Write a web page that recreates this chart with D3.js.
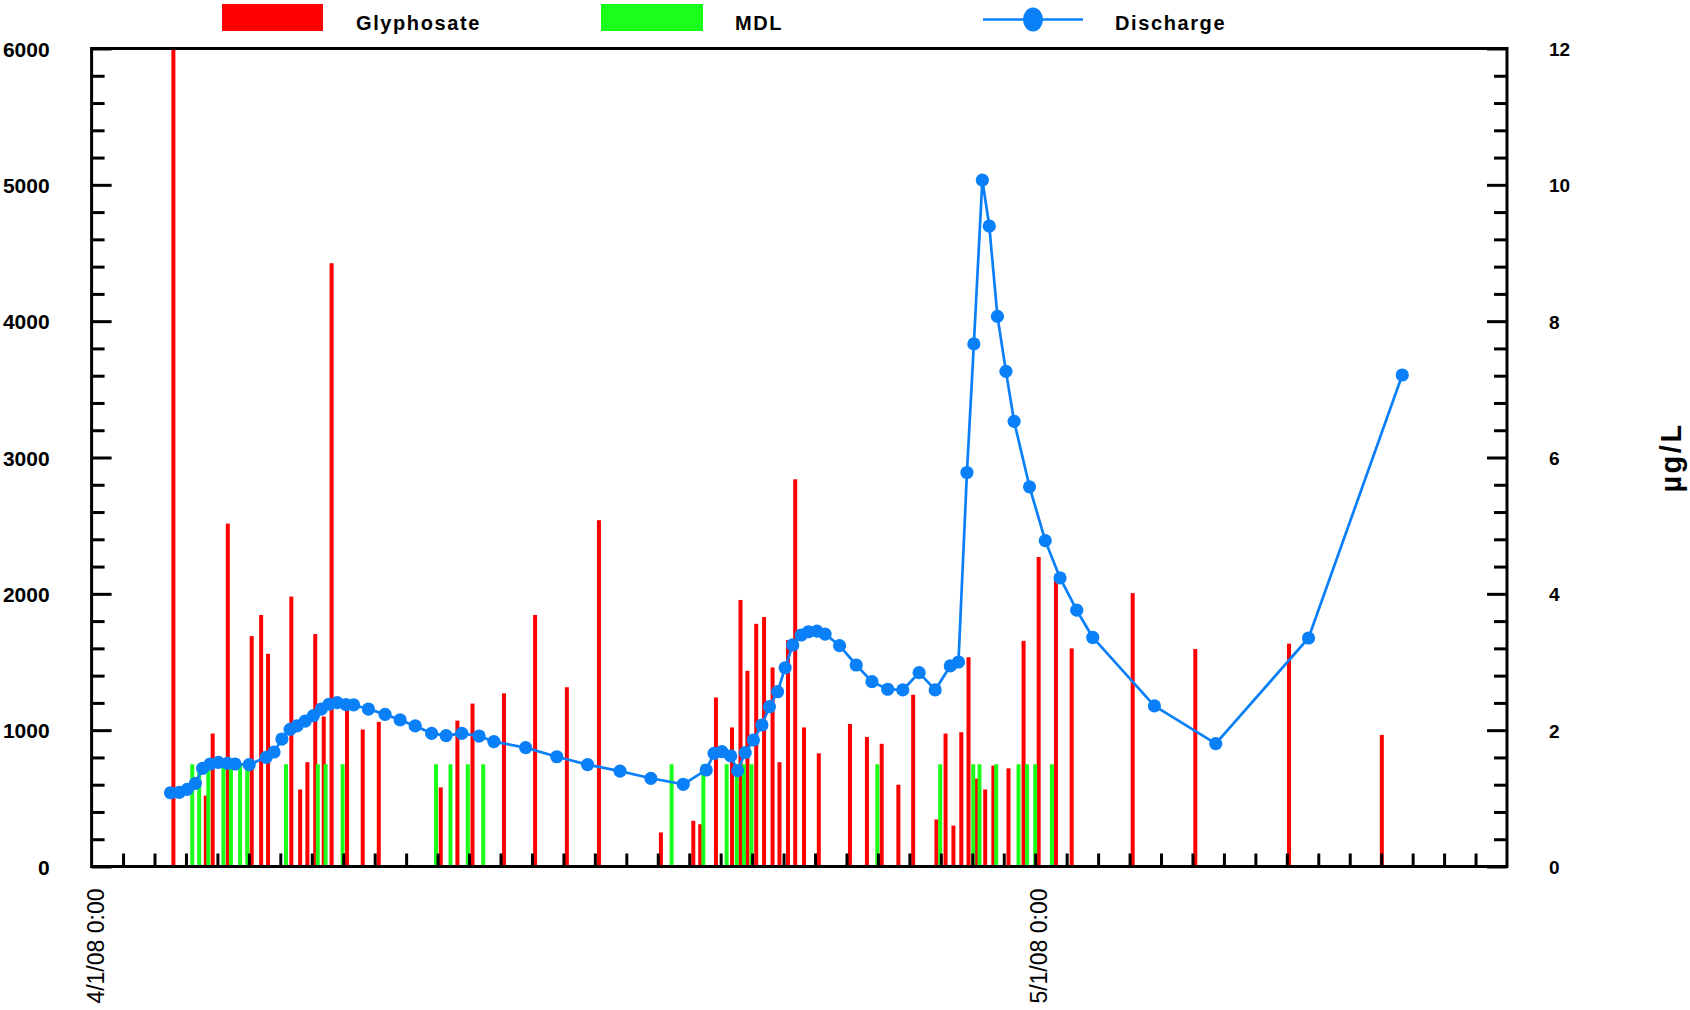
<!DOCTYPE html>
<html>
<head>
<meta charset="utf-8">
<script src="https://cdn.jsdelivr.net/npm/d3@7"></script>
<style>
  html, body { margin: 0; padding: 0; background: #ffffff; }
  svg { display: block; }
</style>
</head>
<body>
<svg id="chart" width="1690" height="1010"></svg>
<script>
// ---- data -------------------------------------------------------------
// All times are days elapsed since 4/1/08 0:00.

// Stream discharge (left axis)
const dischargeDays = [
  2.51, 2.79, 3.04, 3.30, 3.53, 3.77, 4.03, 4.32, 4.56, 5.01,
  5.55, 5.80, 6.05, 6.31, 6.53, 6.79, 7.05, 7.30, 7.55, 7.81,
  8.09, 8.33, 8.80, 9.33, 9.81, 10.29, 10.81, 11.27, 11.77, 12.32,
  12.79, 13.80, 14.79, 15.77, 16.80, 17.78, 18.81, 19.54, 19.79, 20.04,
  20.32, 20.54, 20.78, 21.04, 21.31, 21.55, 21.81, 22.05, 22.29, 22.56,
  22.79, 23.06, 23.32, 23.78, 24.31, 24.81, 25.31, 25.79, 26.31, 26.82,
  27.30, 27.56, 27.83, 28.05, 28.32, 28.54, 28.80, 29.07, 29.33, 29.82,
  30.32, 30.79, 31.32, 31.83, 33.79, 35.74, 38.69, 41.67
];
const dischargeValues = [
  541, 544, 566, 610, 720, 752, 764, 757, 752, 747,
  801, 840, 935, 1006, 1031, 1067, 1106, 1155, 1190, 1202,
  1187, 1185, 1155, 1116, 1075, 1031, 977, 960, 977, 957,
  916, 872, 805, 747, 700, 647, 603, 708, 830, 842,
  811, 703, 835, 928, 1038, 1172, 1282, 1458, 1625, 1698,
  1722, 1727, 1705, 1620, 1478, 1356, 1300, 1295, 1422, 1295,
  1471, 1500, 2890, 3833, 5035, 4698, 4035, 3632, 3265, 2785,
  2390, 2117, 1880, 1680, 1178, 901, 1676, 3605
];

// Glyphosate concentration, µg/L (right axis)
const glyphosateDays = [
  2.60, 3.63, 3.85, 4.33, 5.09, 5.39, 5.61, 6.35, 6.63, 6.86,
  7.11, 7.38, 7.63, 8.12, 8.62, 9.13, 11.10, 11.63, 12.11, 13.11,
  14.10, 15.11, 16.13, 18.10, 19.13, 19.35, 19.85, 20.36, 20.63, 20.85,
  21.13, 21.38, 21.65, 21.87, 22.14, 22.37, 22.65, 23.12, 24.11, 24.65,
  25.12, 25.65, 26.12, 26.86, 27.15, 27.40, 27.65, 27.88, 28.14, 28.41,
  28.67, 29.15, 29.63, 30.11, 30.66, 31.16, 33.10, 35.09, 38.07, 41.02
];
const glyphosateValues = [
  12.0, 1.04, 1.95, 5.03, 3.38, 3.69, 3.12, 3.96, 1.13, 1.53,
  3.41, 2.20, 8.85, 2.34, 2.01, 2.12, 1.16, 2.14, 2.39, 2.54,
  3.69, 2.63, 5.08, 0.50, 0.67, 0.62, 2.48, 2.04, 3.91, 2.87,
  3.56, 3.66, 2.92, 1.53, 3.32, 5.68, 2.04, 1.66, 2.09, 1.90,
  1.80, 1.20, 2.52, 0.69, 1.95, 0.60, 1.97, 3.07, 1.29, 1.13,
  1.48, 1.44, 3.31, 4.54, 4.20, 3.20, 4.01, 3.19, 3.27, 1.93
];

// Samples reported at the method detection limit, µg/L (right axis)
const mdlDays = [
  3.20, 3.42, 3.71, 4.19, 4.43, 4.72, 4.95, 6.18, 7.19, 7.44,
  7.98, 10.95, 11.41, 11.96, 12.45, 18.44, 19.45, 20.19, 20.51, 20.74,
  20.98, 24.98, 26.98, 28.03, 28.23, 28.76, 29.47, 29.74, 30.00, 30.53
];
const mdlValues = [
  1.5, 1.5, 1.5, 1.5, 1.5, 1.5, 1.5, 1.5, 1.5, 1.5,
  1.5, 1.5, 1.5, 1.5, 1.5, 1.5, 1.5, 1.5, 1.5, 1.5,
  1.5, 1.5, 1.5, 1.5, 1.5, 1.5, 1.5, 1.5, 1.5, 1.5
];

// Axis ticks and labels
const leftTicks = [0, 1000, 2000, 3000, 4000, 5000, 6000];
const rightTicks = [0, 2, 4, 6, 8, 10, 12];
const dateLabelDays = [0, 30];
const legendLabels = ["Glyphosate", "MDL", "Discharge"];
const rightTitle = "µg/L";

// ---- layout -----------------------------------------------------------
const plot = { left: 91.6, right: 1507, top: 48.5, bottom: 866.5 };
const colors = { glyphosate: "#ff0000", mdl: "#1aff1a", discharge: "#0a80f8", axis: "#000000" };
const tickFont = "'Liberation Sans', Arial, sans-serif";

const start = new Date(Date.UTC(2008, 3, 1));
const toDate = d => new Date(start.getTime() + d * 86400000);

const svg = d3.select("#chart");

const x = d3.scaleUtc()
  .domain([start, d3.utcDay.offset(start, 45)])
  .range([plot.left, plot.right]);
const yLeft = d3.scaleLinear().domain([0, 6000]).range([plot.bottom, plot.top]);
const yRight = d3.scaleLinear().domain([0, 12]).range([plot.bottom, plot.top]);

svg.append("defs").append("clipPath").attr("id", "plotClip")
  .append("rect")
  .attr("x", plot.left).attr("y", plot.top)
  .attr("width", plot.right - plot.left).attr("height", plot.bottom - plot.top);

// ---- bars -------------------------------------------------------------
const barW = 4;
const bars = svg.append("g").attr("clip-path", "url(#plotClip)");

bars.selectAll("rect.glyphosate")
  .data(d3.zip(glyphosateDays, glyphosateValues))
  .join("rect")
  .attr("class", "glyphosate")
  .attr("x", d => x(toDate(d[0])) - barW / 2)
  .attr("width", barW)
  .attr("y", d => yRight(d[1]))
  .attr("height", d => yRight(0) - yRight(d[1]))
  .attr("fill", colors.glyphosate);

bars.selectAll("rect.mdl")
  .data(d3.zip(mdlDays, mdlValues))
  .join("rect")
  .attr("class", "mdl")
  .attr("x", d => x(toDate(d[0])) - barW / 2)
  .attr("width", barW)
  .attr("y", d => yRight(d[1]))
  .attr("height", d => yRight(0) - yRight(d[1]))
  .attr("fill", colors.mdl);

// ---- axes -------------------------------------------------------------
function styleAxis(g) {
  g.select(".domain").remove();
  g.selectAll(".tick line").attr("stroke", colors.axis).attr("stroke-width", 3);
  g.selectAll(".tick text")
    .attr("fill", colors.axis)
    .style("font-family", tickFont)
    .style("font-weight", "bold")
    .style("font-size", "21px");
}

// day ticks along the bottom, pointing up into the plot
const dayTicks = d3.utcDay.range(d3.utcDay.offset(start, 1), d3.utcDay.offset(start, 45));
svg.append("g")
  .attr("transform", `translate(0,${plot.bottom})`)
  .call(d3.axisBottom(x).tickValues(dayTicks).tickSize(-13).tickFormat(""))
  .call(styleAxis);

// minor ticks every 200 on the left, every 0.4 on the right
const leftMinor = d3.range(200, 6000, 200).filter(v => v % 1000 !== 0);
const rightMinor = leftMinor.map(v => v / 500);

svg.append("g")
  .attr("transform", `translate(${plot.left},0)`)
  .call(d3.axisLeft(yLeft).tickValues(leftMinor).tickSize(-13).tickFormat(""))
  .call(styleAxis);
svg.append("g")
  .attr("transform", `translate(${plot.left},0)`)
  .call(d3.axisLeft(yLeft).tickValues(leftTicks).tickSize(-20).tickPadding(42).tickFormat(d3.format("d")))
  .call(styleAxis)
  .call(g => g.selectAll(".tick text").attr("dy", "0.36em"));

svg.append("g")
  .attr("transform", `translate(${plot.right},0)`)
  .call(d3.axisRight(yRight).tickValues(rightMinor).tickSize(-13).tickFormat(""))
  .call(styleAxis);
svg.append("g")
  .attr("transform", `translate(${plot.right},0)`)
  .call(d3.axisRight(yRight).tickValues(rightTicks).tickSize(-20).tickPadding(42).tickFormat(d3.format("d")))
  .call(styleAxis)
  .call(g => g.selectAll(".tick text").attr("dy", "0.36em").style("font-size", "19px"));

// rotated date labels
const dateFmt = d3.utcFormat("%-m/%-d/%y %-H:%M");
svg.append("g")
  .selectAll("text")
  .data(dateLabelDays.map(toDate))
  .join("text")
  .attr("transform", d => `translate(${x(d) + 12},${plot.bottom + 22}) rotate(-90)`)
  .attr("text-anchor", "end")
  .style("font-family", tickFont)
  .style("font-size", "23px")
  .attr("fill", colors.axis)
  .text(dateFmt);

// right axis title
svg.append("text")
  .attr("transform", `translate(${1681},${(plot.top + plot.bottom) / 2}) rotate(-90)`)
  .attr("text-anchor", "middle")
  .style("font-family", tickFont)
  .style("font-weight", "bold")
  .style("font-size", "29px")
  .style("letter-spacing", "2.5px")
  .attr("fill", colors.axis)
  .text(rightTitle);

// plot frame
svg.append("rect")
  .attr("x", plot.left).attr("y", plot.top)
  .attr("width", plot.right - plot.left).attr("height", plot.bottom - plot.top)
  .attr("fill", "none").attr("stroke", colors.axis).attr("stroke-width", 3);

// ---- discharge line ---------------------------------------------------
const dischargeData = d3.zip(dischargeDays, dischargeValues);
const line = d3.line()
  .x(d => x(toDate(d[0])))
  .y(d => yLeft(d[1]));

svg.append("path")
  .datum(dischargeData)
  .attr("d", line)
  .attr("fill", "none")
  .attr("stroke", colors.discharge)
  .attr("stroke-width", 2.7)
  .attr("stroke-linejoin", "round");

svg.append("g")
  .selectAll("circle")
  .data(dischargeData)
  .join("circle")
  .attr("cx", d => x(toDate(d[0])))
  .attr("cy", d => yLeft(d[1]))
  .attr("r", 6.6)
  .attr("fill", colors.discharge);

// ---- legend -----------------------------------------------------------
const legend = svg.append("g");
const legendTextY = 22.5;
const legendLineY = 19.5;
const legendText = (tx, label) => legend.append("text")
  .attr("x", tx).attr("y", legendTextY).attr("dy", "0.36em")
  .style("font-family", tickFont)
  .style("font-weight", "bold")
  .style("font-size", "20px")
  .style("letter-spacing", "1.6px")
  .attr("fill", colors.axis)
  .text(label);

legend.append("rect").attr("x", 222).attr("y", 4).attr("width", 101).attr("height", 27).attr("fill", colors.glyphosate);
legendText(356, legendLabels[0]);
legend.append("rect").attr("x", 601).attr("y", 4).attr("width", 102).attr("height", 27).attr("fill", colors.mdl);
legendText(735, legendLabels[1]);
legend.append("line").attr("x1", 983).attr("x2", 1083).attr("y1", legendLineY).attr("y2", legendLineY)
  .attr("stroke", colors.discharge).attr("stroke-width", 2.7);
legend.append("ellipse").attr("cx", 1033).attr("cy", legendLineY).attr("rx", 10).attr("ry", 12)
  .attr("fill", colors.discharge);
legendText(1115, legendLabels[2]);
</script>
</body>
</html>
